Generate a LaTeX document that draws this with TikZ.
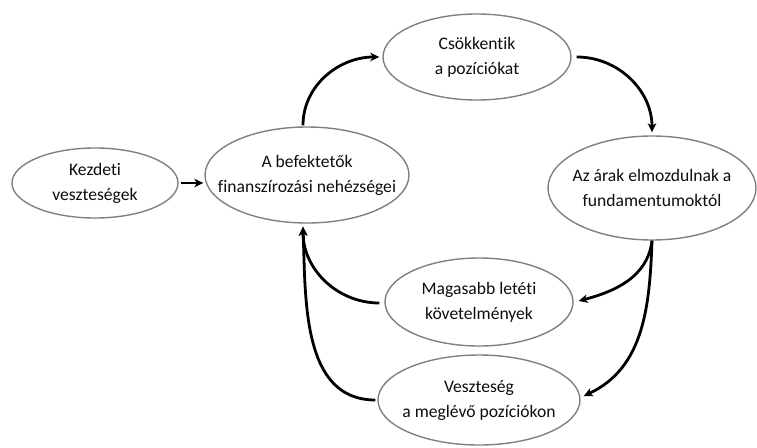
\documentclass[tikz,border=0pt]{standalone}
\usepackage{fontspec}
\setmainfont[Ligatures=NoCommon]{Carlito}
\usetikzlibrary{shapes.geometric,arrows.meta}
\begin{document}
\begin{tikzpicture}[x=1pt,y=1pt,
  bubble/.style={ellipse, draw=black!50, line width=1.4pt, inner xsep=-40pt, inner ysep=-20pt,
    align=center, font=\fontsize{17.6}{25}\selectfont, text=black!95},
  flow/.style={-{Stealth[length=9pt,width=8.5pt,inset=2.5pt]}, line width=2.8pt, black}]
\useasboundingbox (0,0) rectangle (757,-447);
\node[bubble, minimum width=166pt, minimum height=70pt] (k) at (95,-183) {Kezdeti\\veszteségek};
\node[bubble, minimum width=204pt, minimum height=96pt] (b) at (307,-175) {A befektetők\\finanszírozási nehézségei};
\node[bubble, minimum width=188pt, minimum height=86pt] (c) at (477,-57) {Csökkentik\\a pozíciókat};
\node[bubble, minimum width=208pt, minimum height=104pt] (d) at (652,-188) {Az árak elmozdulnak a\\fundamentumoktól};
\node[bubble, minimum width=188pt, minimum height=88pt] (m) at (479,-302) {Magasabb letéti\\követelmények};
\node[bubble, minimum width=202pt, minimum height=90pt] (v) at (479,-400) {Veszteség\\a meglévő pozíciókon};
\draw[flow] ([xshift=2pt]k.east) -- ([xshift=-1pt]k.east -| b.west);
\draw[flow] ([xshift=-4pt,yshift=1pt]b.north) to[out=90,in=180] ([xshift=-3pt]c.west);
\draw[flow] ([xshift=5pt]c.east) to[out=0,in=90] ([yshift=3pt]d.north);
\draw[flow] (d.south) to[out=-97,in=15] ([xshift=5pt,yshift=1pt]m.east);
\draw[flow] (d.south) to[out=-92,in=25] ([xshift=3pt,yshift=4pt]v.east);
\draw[flow] ([xshift=-5pt,yshift=-1pt]m.west) to[out=180,in=-90] ([xshift=-4pt,yshift=-3pt]b.south);
\draw[flow] ([xshift=-2pt]v.west) to[out=180,in=-88] ([xshift=-4pt,yshift=-3pt]b.south);
\end{tikzpicture}
\end{document}
